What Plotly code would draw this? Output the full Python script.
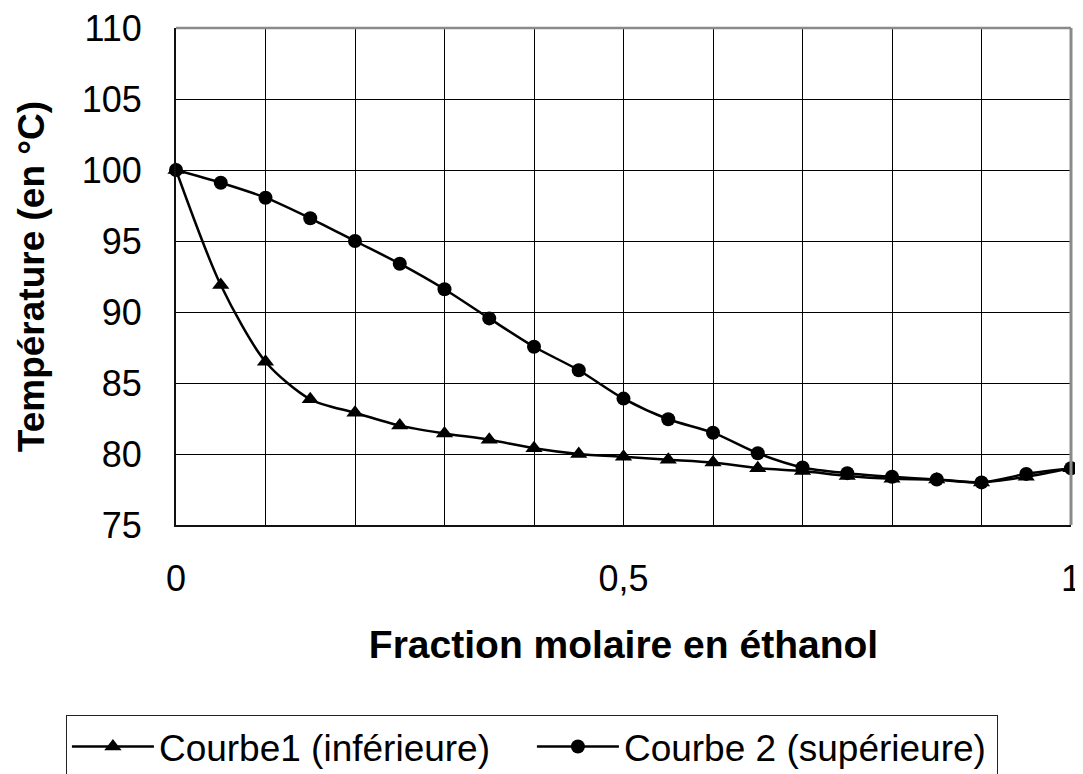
import plotly.graph_objects as go

x_frac = [0, 0.05, 0.1, 0.15, 0.2, 0.25, 0.3, 0.35, 0.4, 0.45, 0.5,
          0.55, 0.6, 0.65, 0.7, 0.75, 0.8, 0.85, 0.9, 0.95, 1.0]
courbe1 = [100, 91.9, 86.5, 83.85, 82.9, 82.0, 81.45, 81.0, 80.4, 80.0, 79.8,
           79.6, 79.4, 79.0, 78.8, 78.45, 78.25, 78.2, 78.0, 78.4, 79.0]
courbe2 = [100, 99.1, 98.05, 96.6, 95.0, 93.4, 91.6, 89.55, 87.55, 85.9, 83.9,
           82.45, 81.5, 80.05, 79.05, 78.65, 78.4, 78.2, 78.0, 78.6, 79.0]

name1 = "Courbe1 (inférieure)"
name2 = "Courbe 2 (supérieure)"

FONT = "Liberation Sans, Arial, sans-serif"

fig = go.Figure()
fig.add_trace(go.Scatter(
    x=x_frac, y=courbe1, name=name1, mode="lines+markers",
    line=dict(color="black", width=2.5, shape="spline", smoothing=0.8),
    marker=dict(symbol="triangle-up", size=15, color="black"),
    cliponaxis=False,
))
fig.add_trace(go.Scatter(
    x=x_frac, y=courbe2, name=name2, mode="lines+markers",
    line=dict(color="black", width=2.5, shape="spline", smoothing=0.8),
    marker=dict(symbol="circle", size=14, color="black"),
    cliponaxis=False,
))

# the page body has an 8px margin, so the figure is sized 8px smaller
fig.update_layout(
    width=1075, height=766,
    margin=dict(l=168, r=12, t=20, b=249, autoexpand=False),
    paper_bgcolor="white", plot_bgcolor="white",
    separators=", ",
    font=dict(family=FONT, size=34, color="black"),
    showlegend=True,
    legend=dict(
        orientation="h", x=-0.1230, xanchor="left", y=-0.3823, yanchor="top",
        bordercolor="#222222", borderwidth=1,
        font=dict(family=FONT, size=37, color="black"),
        itemwidth=82, entrywidth=368, entrywidthmode="pixels",
        tracegroupgap=0,
    ),
    xaxis=dict(
        range=[0, 1], dtick=0.5, tick0=0, automargin=False,
        showgrid=True, gridcolor="black", gridwidth=1,
        minor=dict(dtick=0.1, showgrid=True, gridcolor="black", gridwidth=1),
        showline=True, linecolor="#111111", linewidth=2,
        zeroline=False, ticks="", ticklabelstandoff=21,
        ticklabeloverflow="allow",
        tickfont=dict(family=FONT, size=36),
        title=dict(text="<b>Fraction molaire en éthanol</b>",
                   font=dict(family=FONT, size=39), standoff=32),
    ),
    yaxis=dict(
        range=[75, 110], dtick=5, automargin=False,
        showgrid=True, gridcolor="black", gridwidth=1,
        showline=True, linecolor="#111111", linewidth=2,
        zeroline=False, ticks="", ticklabelstandoff=25,
        ticklabeloverflow="allow",
        tickfont=dict(family=FONT, size=36),
        title=dict(text="<b>Température (en °C)</b>",
                   font=dict(family=FONT, size=37), standoff=26),
    ),
)

# grey frame on top and right of the plot area
fig.add_shape(type="line", xref="paper", yref="paper", x0=0, x1=1, y0=1, y1=1,
              line=dict(color="#8a8a8a", width=2.5))
fig.add_shape(type="line", xref="paper", yref="paper", x0=1, x1=1, y0=0, y1=1,
              line=dict(color="#8a8a8a", width=3))

fig.write_html("out.html")
